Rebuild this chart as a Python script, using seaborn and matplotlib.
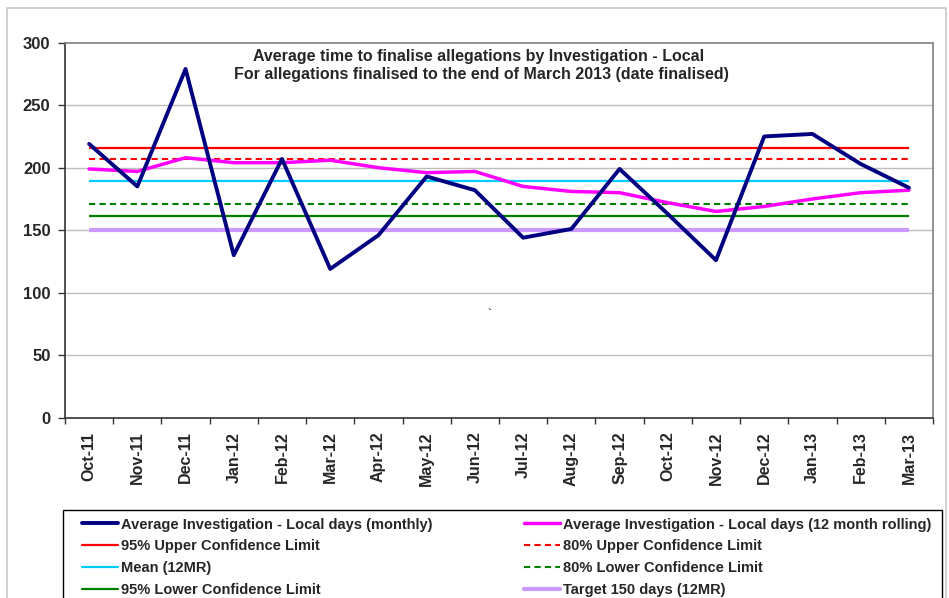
import pandas as pd
import numpy as np
import matplotlib.pyplot as plt
import seaborn as sns
from matplotlib.lines import Line2D
from matplotlib.patches import Rectangle

# Data
months = ["Oct-11", "Nov-11", "Dec-11", "Jan-12", "Feb-12", "Mar-12", "Apr-12", "May-12", "Jun-12",
          "Jul-12", "Aug-12", "Sep-12", "Oct-12", "Nov-12", "Dec-12", "Jan-13", "Feb-13", "Mar-13"]
monthly = [219, 185, 279, 130, 207, 119, 146, 193, 182, 144, 151, 199, 163, 126, 225, 227, 203, 184]
rolling = [199, 197, 208, 204, 204, 206, 200, 196, 197, 185, 181, 180, 172, 165, 169, 175, 180, 182]

ucl95 = 216
ucl80 = 207
mean_12mr = 189
lcl80 = 171
lcl95 = 161
target = 150

yticks = [0, 50, 100, 150, 200, 250, 300]

df = pd.DataFrame({"pos": np.arange(len(months)), "month": months,
                   "monthly": monthly, "rolling": rolling})

sns.set_style("white")
plt.rcParams["font.family"] = ["Liberation Sans", "DejaVu Sans"]
plt.rcParams["font.weight"] = "bold"

W, H = 949, 598
fig = plt.figure(figsize=(W / 100, H / 100), dpi=100)
ax = fig.add_axes([65 / W, 1 - 417.7 / H, (933 - 65) / W, (417.7 - 42.7) / H])

# chart area border
fig.patches.append(Rectangle((7 / W, -0.1), (946 - 7) / W, 1.1 - 8 / H, transform=fig.transFigure,
                             fill=False, edgecolor="#c8c8c8", linewidth=1.2))
# legend box
fig.patches.append(Rectangle((63 / W, -0.1), (942 - 63) / W, 0.1 + 1 - 510 / H, transform=fig.transFigure,
                             fill=False, edgecolor="black", linewidth=1.0))

ax.set_ylim(0, 300)
ax.set_xlim(-0.5, len(months) - 0.5)
ax.set_yticks(yticks)
for v in yticks[1:-1]:
    ax.axhline(v, color="#bdbdbd", linewidth=1, zorder=0)

x0, x1 = df["pos"].iloc[0], df["pos"].iloc[-1]
ref = [
    (ucl95, "#ff0000", "-", 1.6, "95% Upper Confidence Limit"),
    (ucl80, "#ff0000", (0, (3, 2)), 1.5, "80% Upper Confidence Limit"),
    (mean_12mr, "#00ccff", "-", 1.6, "Mean (12MR)"),
    (lcl80, "#008000", (0, (3, 2)), 1.5, "80% Lower Confidence Limit"),
    (lcl95, "#008000", "-", 1.6, "95% Lower Confidence Limit"),
    (target, "#cc99ff", "-", 3.0, "Target 150 days (12MR)"),
]
for val, col, ls, lw, lab in ref:
    ax.hlines(val, x0, x1, colors=col, linestyles=ls, linewidth=lw, zorder=2)

sns.lineplot(data=df, x="pos", y="rolling", color="#ff00ff", linewidth=2.5, ax=ax, zorder=3)
sns.lineplot(data=df, x="pos", y="monthly", color="#000080", linewidth=2.8, ax=ax, zorder=4)

ax.set_xlabel("")
ax.set_ylabel("")

# category axis: ticks between categories, labels on centres
ax.set_xticks(np.arange(-0.5, len(months), 1))
ax.set_xticklabels([])
ax.set_xticks(df["pos"], minor=True)
ax.set_xticklabels(months, minor=True, rotation=90, fontsize=11.5, fontweight="bold")
ax.tick_params(axis="x", which="major", direction="out", length=4, width=1, color="#333333", bottom=True)
ax.tick_params(axis="x", which="minor", length=0, pad=10)
ax.tick_params(axis="y", direction="out", length=5, width=1, color="#333333", left=True, labelsize=12, pad=5.5)
for t in ax.get_yticklabels():
    t.set_fontweight("bold")

for s in ["left", "bottom"]:
    ax.spines[s].set_color("#333333")
    ax.spines[s].set_linewidth(1.2)
for s in ["top", "right"]:
    ax.spines[s].set_color("#808080")
    ax.spines[s].set_linewidth(1.2)

fig.text(479 / W, 1 - 57 / H, "Average time to finalise allegations by Investigation - Local",
         ha="center", va="center", fontsize=11.5, fontweight="bold")
fig.text(481 / W, 1 - 75 / H, "For allegations finalised to the end of March 2013 (date finalised)",
         ha="center", va="center", fontsize=11.5, fontweight="bold")
fig.text(490 / W, 1 - 313 / H, "`", ha="center", va="center", fontsize=8)

# legend, two columns filled row by row
h_monthly = Line2D([], [], color="#000080", linewidth=2.8)
h_rolling = Line2D([], [], color="#ff00ff", linewidth=2.5)
hr = {lab: Line2D([], [], color=col, linestyle=ls, linewidth=lw) for val, col, ls, lw, lab in ref}
handles = [h_monthly, hr["95% Upper Confidence Limit"], hr["Mean (12MR)"], hr["95% Lower Confidence Limit"],
           h_rolling, hr["80% Upper Confidence Limit"], hr["80% Lower Confidence Limit"], hr["Target 150 days (12MR)"]]
labels = ["Average Investigation - Local days (monthly)", "95% Upper Confidence Limit", "Mean (12MR)",
          "95% Lower Confidence Limit", "Average Investigation - Local days (12 month rolling)",
          "80% Upper Confidence Limit", "80% Lower Confidence Limit", "Target 150 days (12MR)"]
leg = fig.legend(handles, labels, ncol=2, loc="upper left",
                 bbox_to_anchor=(82 / W, 1 - 517.5 / H),
                 prop={"size": 10.5, "weight": "bold"}, frameon=False,
                 handlelength=2.47, handletextpad=0.2, labelspacing=0.53,
                 columnspacing=6.25, borderpad=0, borderaxespad=0)

plt.savefig("out.png", dpi=100)
